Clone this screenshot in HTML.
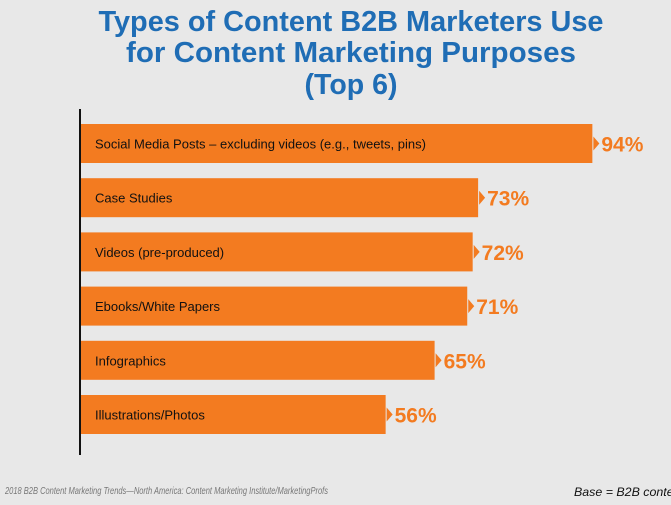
<!DOCTYPE html>
<html><head><meta charset="utf-8"><style>
body{margin:0;background:#e8e8e8;}
svg{display:block;font-family:"Liberation Sans",sans-serif;}
</style></head><body>
<svg id="chart" width="671" height="505" viewBox="0 0 671 505">
<rect width="671" height="505" fill="#e8e8e8"/>
<g fill="#1f6db5" font-weight="bold" font-size="29" text-anchor="middle">
<text x="351" y="31" textLength="505" lengthAdjust="spacingAndGlyphs">Types of Content B2B Marketers Use</text>
<text x="351" y="62" textLength="450" lengthAdjust="spacingAndGlyphs">for Content Marketing Purposes</text>
<text x="351" y="94" textLength="93" lengthAdjust="spacingAndGlyphs">(Top 6)</text>
</g>
<line x1="80" y1="109" x2="80" y2="455" stroke="#111" stroke-width="2"/>
<g id="bars"></g>
<text x="5" y="494" font-size="10.5" font-style="italic" fill="#777" textLength="323" lengthAdjust="spacingAndGlyphs">2018 B2B Content Marketing Trends—North America: Content Marketing Institute/MarketingProfs</text>
<text x="574" y="496" font-size="12" font-style="italic" fill="#111" textLength="110" lengthAdjust="spacingAndGlyphs">Base = B2B content</text>
</svg>
<script>
const categories=["Social Media Posts – excluding videos (e.g., tweets, pins)","Case Studies","Videos (pre-produced)","Ebooks/White Papers","Infographics","Illustrations/Photos"];
const values=[94,73,72,71,65,56];
const valueLabels=["94%","73%","72%","71%","65%","56%"];
const ns="http://www.w3.org/2000/svg";
const g=document.getElementById('bars');
const x0=81, scale=5.44, top0=124, step=54.2, bh=39;
function xs(v){return x0+v*scale;}
function ys(i){return top0+i*step;}
values.forEach((v,i)=>{
  const y=ys(i), xe=xs(v);
  const r=document.createElementNS(ns,'rect');
  r.setAttribute('x',x0);r.setAttribute('y',y);r.setAttribute('width',xe-x0);r.setAttribute('height',bh);r.setAttribute('fill','#f37b20');
  
  
  g.appendChild(r);
  const p=document.createElementNS(ns,'polygon');
  p.setAttribute('points',`${xe+1},${y+bh/2-7} ${xe+7},${y+bh/2} ${xe+1},${y+bh/2+7}`);p.setAttribute('fill','#f37b20');
  
  
  g.appendChild(p);
  const t=document.createElementNS(ns,'text');
  t.setAttribute('x',95);t.setAttribute('y',y+bh/2+5);t.setAttribute('font-size','13');t.setAttribute('fill','#111');
  t.textContent=categories[i];
  
  
  g.appendChild(t);
  const vt=document.createElementNS(ns,'text');
  vt.setAttribute('x',xe+9);vt.setAttribute('y',y+bh/2+8);vt.setAttribute('font-size','21');vt.setAttribute('font-weight','bold');vt.setAttribute('fill','#f37b20');
  vt.textContent=valueLabels[i];
  
  
  g.appendChild(vt);
});
</script>
</body></html>
